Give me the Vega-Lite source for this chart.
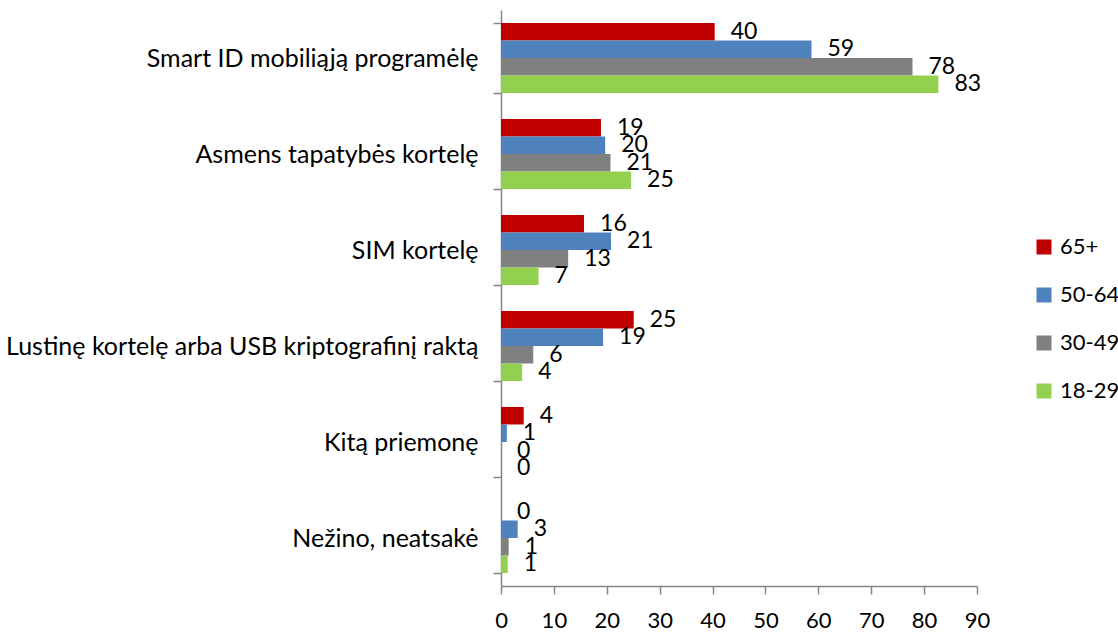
{
  "$schema": "https://vega.github.io/schema/vega-lite/v6.json",
  "width": 476,
  "height": 576,
  "autosize": {"type": "none"},
  "padding": {"left": 501, "top": 10, "right": 141, "bottom": 46},
  "background": "white",
  "config": {"view": {"stroke": null}, "font": "Lato"},
  "data": {
    "values": [
      {"category": "Smart ID mobiliąją programėlę", "group": "65+", "value": 40.4},
      {"category": "Smart ID mobiliąją programėlę", "group": "50-64", "value": 58.7},
      {"category": "Smart ID mobiliąją programėlę", "group": "30-49", "value": 77.8},
      {"category": "Smart ID mobiliąją programėlę", "group": "18-29", "value": 82.7},
      {"category": "Asmens tapatybės kortelę", "group": "65+", "value": 18.9},
      {"category": "Asmens tapatybės kortelę", "group": "50-64", "value": 19.7},
      {"category": "Asmens tapatybės kortelę", "group": "30-49", "value": 20.7},
      {"category": "Asmens tapatybės kortelę", "group": "18-29", "value": 24.6},
      {"category": "SIM kortelę", "group": "65+", "value": 15.7},
      {"category": "SIM kortelę", "group": "50-64", "value": 20.8},
      {"category": "SIM kortelę", "group": "30-49", "value": 12.7},
      {"category": "SIM kortelę", "group": "18-29", "value": 7.1},
      {"category": "Lustinę kortelę arba USB kriptografinį raktą", "group": "65+", "value": 25.1},
      {"category": "Lustinę kortelę arba USB kriptografinį raktą", "group": "50-64", "value": 19.3},
      {"category": "Lustinę kortelę arba USB kriptografinį raktą", "group": "30-49", "value": 6.1},
      {"category": "Lustinę kortelę arba USB kriptografinį raktą", "group": "18-29", "value": 4.0},
      {"category": "Kitą priemonę", "group": "65+", "value": 4.3},
      {"category": "Kitą priemonę", "group": "50-64", "value": 1.1},
      {"category": "Kitą priemonę", "group": "30-49", "value": 0},
      {"category": "Kitą priemonę", "group": "18-29", "value": 0},
      {"category": "Nežino, neatsakė", "group": "65+", "value": 0},
      {"category": "Nežino, neatsakė", "group": "50-64", "value": 3.15},
      {"category": "Nežino, neatsakė", "group": "30-49", "value": 1.45},
      {"category": "Nežino, neatsakė", "group": "18-29", "value": 1.27}
    ]
  },
  "encoding": {
    "y": {
      "field": "category",
      "type": "nominal",
      "sort": ["Smart ID mobiliąją programėlę", "Asmens tapatybės kortelę", "SIM kortelę", "Lustinę kortelę arba USB kriptografinį raktą", "Kitą priemonę", "Nežino, neatsakė"],
      "scale": {"paddingInner": 0.27, "paddingOuter": 0.135},
      "axis": {
        "title": null,
        "tickBand": "extent",
        "tickSize": 8,
        "tickColor": "#868686",
        "domainColor": "#868686",
        "domainWidth": 1.5,
        "tickWidth": 1.5,
        "labelPadding": 15,
        "labelFontSize": 25,
        "labelColor": "#000000",
        "labelLimit": 700,
        "grid": false
      }
    },
    "yOffset": {
      "field": "group",
      "type": "nominal",
      "sort": ["65+", "50-64", "30-49", "18-29"],
      "scale": {"paddingInner": 0, "paddingOuter": 0}
    },
    "x": {
      "field": "value",
      "type": "quantitative",
      "scale": {"domain": [0, 90], "nice": false},
      "axis": {
        "title": null,
        "values": [0, 10, 20, 30, 40, 50, 60, 70, 80, 90],
        "grid": false,
        "tickSize": 8,
        "tickColor": "#868686",
        "domainColor": "#868686",
        "domainWidth": 1.5,
        "tickWidth": 1.5,
        "labelPadding": 16,
        "labelFontSize": 22,
        "labelColor": "#000000",
        "labelFlush": false
      }
    }
  },
  "layer": [
    {
      "mark": {"type": "bar"},
      "encoding": {
        "color": {
          "field": "group",
          "type": "nominal",
          "sort": ["65+", "50-64", "30-49", "18-29"],
          "scale": {"domain": ["65+", "50-64", "30-49", "18-29"], "range": ["#C00000", "#4F81BD", "#808080", "#92D050"]},
          "legend": {
            "title": null,
            "orient": "none",
            "legendX": 532,
            "legendY": 226,
            "symbolType": "square",
            "symbolSize": 225,
            "symbolStrokeWidth": 0,
            "labelFontSize": 22,
            "labelColor": "#000000",
            "labelOffset": 5,
            "labelLimit": 200,
            "rowPadding": 26
          }
        }
      }
    },
    {
      "mark": {"type": "text", "align": "left", "baseline": "middle", "dx": 16, "fontSize": 23, "color": "#000000"},
      "encoding": {"text": {"field": "value", "type": "quantitative", "format": ".0f"}}
    }
  ]
}
